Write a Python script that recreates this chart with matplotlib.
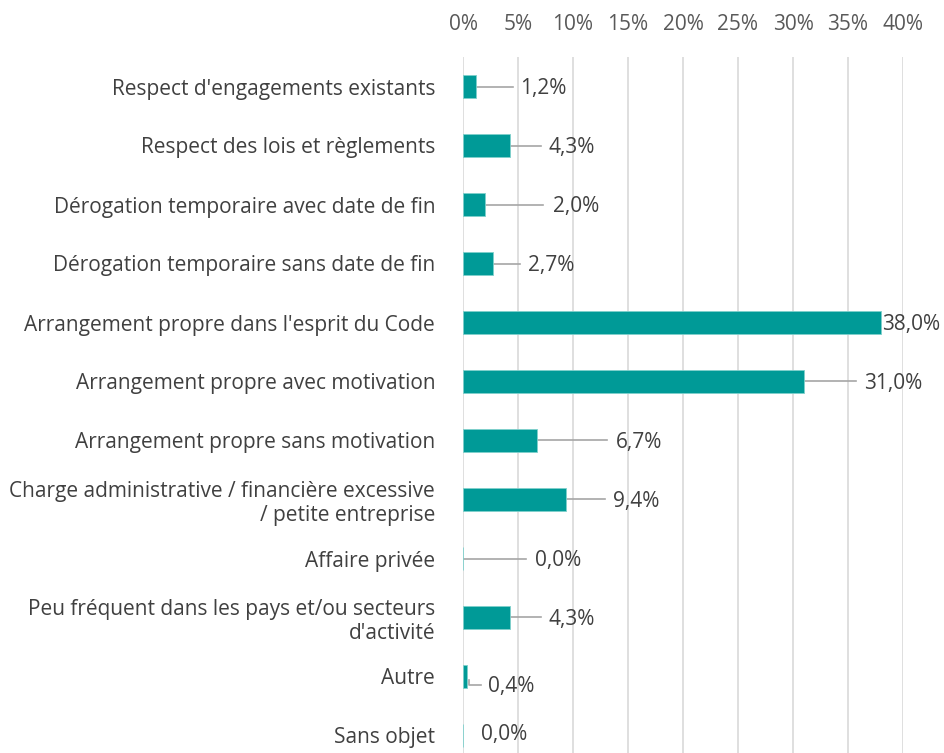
import matplotlib.pyplot as plt

plt.rcParams['font.family'] = ['Open Sans', 'DejaVu Sans']

categories = [
    "Respect d'engagements existants",
    "Respect des lois et règlements",
    "Dérogation temporaire avec date de fin",
    "Dérogation temporaire sans date de fin",
    "Arrangement propre dans l'esprit du Code",
    "Arrangement propre avec motivation",
    "Arrangement propre sans motivation",
    "Charge administrative / financière excessive\n/ petite entreprise",
    "Affaire privée",
    "Peu fréquent dans les pays et/ou secteurs\nd'activité",
    "Autre",
    "Sans objet",
]
values = [1.2, 4.3, 2.0, 2.7, 38.0, 31.0, 6.7, 9.4, 0.0, 4.3, 0.4, 0.0]
value_labels = ["1,2%", "4,3%", "2,0%", "2,7%", "38,0%", "31,0%",
                "6,7%", "9,4%", "0,0%", "4,3%", "0,4%", "0,0%"]
xticks = [0, 5, 10, 15, 20, 25, 30, 35, 40]

# where Excel dropped the data labels (x in %, y shift in rows), and leader line ends
label_x = [5.2, 7.8, 8.2, 5.9, 38.1, 36.5, 13.9, 13.6, 6.5, 7.8, 2.3, 1.6]
label_dy = [0.04, 0.04, 0.04, 0.04, 0.04, 0.04, 0.04, 0.04, 0.04, 0.04, 0.17, -0.02]
leader_end = [4.5, 7.1, 7.3, 5.2, None, 35.7, 13.1, 12.9, 5.7, 7.1, 1.6, None]

TEAL = "#009a97"
GREY_TXT = "#404040"
FS = 15

fig = plt.figure(figsize=(9.44, 7.53), dpi=100)
ax = fig.add_axes([463 / 944, 0, 440 / 944, 696 / 753])

y = list(range(len(categories)))
ax.barh(y, values, height=0.39, color=TEAL, edgecolor="#7fd0cc", linewidth=0.6, zorder=3)

for i, (v, lab, lx, dy, le) in enumerate(zip(values, value_labels, label_x, label_dy, leader_end)):
    if le is not None:
        if i == 10:
            ax.plot([v + 0.1, v + 0.1, le], [i + 0.06, i + 0.15, i + 0.15],
                    color="#a6a6a6", lw=1.2, zorder=2)
        else:
            ax.plot([v, le], [i, i], color="#a6a6a6", lw=1.2, zorder=2)
    ax.text(lx, i + dy, lab, ha="left", va="center", fontsize=FS, color=GREY_TXT)

ax.set_xlim(0, 40)
ax.set_ylim(-0.5 + 696 / 59, -0.5)
ax.set_xticks(xticks)
ax.set_xticklabels([f"{t}%" for t in xticks])
ax.xaxis.tick_top()
ax.tick_params(axis="x", length=0, pad=16, labelsize=FS, labelcolor="#595959")
ax.set_yticks(y)
ax.set_yticklabels(categories, fontsize=FS, color=GREY_TXT, multialignment="right")
ax.tick_params(axis="y", length=0, pad=20)
ax.grid(axis="x", color="#d9d9d9", linewidth=1.2, zorder=0)
ax.set_axisbelow(True)
for s in ax.spines.values():
    s.set_visible(False)

fig.savefig("out.png", dpi=100)
